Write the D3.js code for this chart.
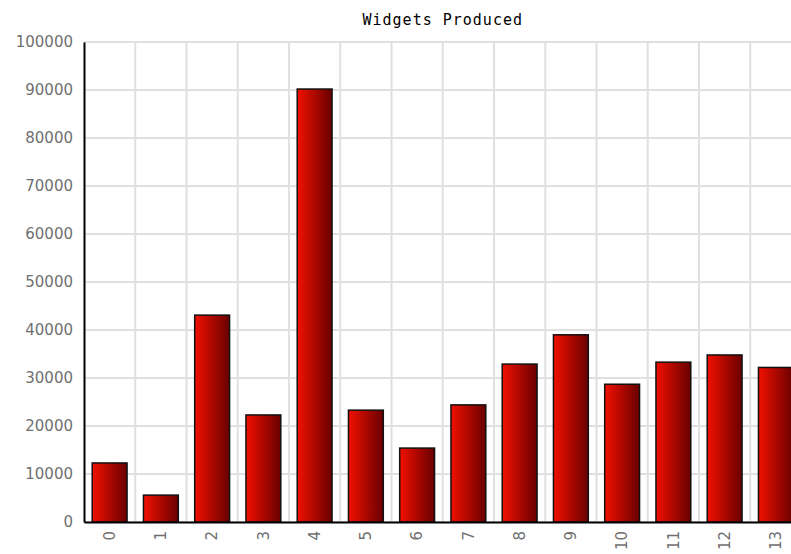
<!DOCTYPE html>
<html>
<head>
<meta charset="utf-8">
<script src="https://d3js.org/d3.v7.min.js"></script>
<style>
  body { margin: 0; background: #fff; }
</style>
</head>
<body>
<div id="chart"></div>
<script>
    // values
    var categories = ["0","1","2","3","4","5","6","7","8","9","10","11","12","13"];
    var widgets = [12300, 5600, 43100, 22300, 90200, 23300, 15400, 24400, 32900, 39000, 28700, 33300, 34800, 32200];
    var yTicks = [0,10000,20000,30000,40000,50000,60000,70000,80000,90000,100000];

    var width = 791, height = 554;
    var margin = {top: 42, left: 84, bottom: 32};
    var plotW = 717.5;
    var plotH = height - margin.top - margin.bottom;

    var svg = d3.select("#chart").append("svg")
        .attr("width", width)
        .attr("height", height);

    var defs = svg.append("defs");
    var grad = defs.append("linearGradient").attr("id", "barGrad")
        .attr("x1", "0%").attr("x2", "100%").attr("y1", "0%").attr("y2", "0%");
    grad.append("stop").attr("offset", "0%").attr("stop-color", "#f21000");
    grad.append("stop").attr("offset", "100%").attr("stop-color", "#680000");

    var x = d3.scaleBand().domain(categories).range([0, plotW]).paddingInner(0.32).paddingOuter(0.16);
    var xGrid = d3.scaleBand().domain(categories).range([0, plotW]);
    var y = d3.scaleLinear().domain([0, 100000]).range([plotH, 0]);

    var g = svg.append("g").attr("transform", "translate(" + margin.left + "," + margin.top + ")");

    // grid
    g.selectAll(".hgrid").data(yTicks).enter().append("line")
        .attr("x1", 0).attr("x2", plotW)
        .attr("y1", function(d) { return y(d); }).attr("y2", function(d) { return y(d); })
        .attr("stroke", "#e0e0e0").attr("stroke-width", 2);
    g.selectAll(".vgrid").data(categories.slice(1)).enter().append("line")
        .attr("x1", function(d) { return xGrid(d); }).attr("x2", function(d) { return xGrid(d); })
        .attr("y1", 0).attr("y2", plotH)
        .attr("stroke", "#e0e0e0").attr("stroke-width", 2);

    // bars
    g.selectAll(".bar").data(widgets).enter().append("rect")
        .attr("x", function(d, i) { return x(categories[i]); })
        .attr("y", function(d) { return y(d); })
        .attr("width", x.bandwidth())
        .attr("height", function(d) { return plotH - y(d); })
        .attr("fill", "url(#barGrad)")
        .attr("stroke", "#111").attr("stroke-width", 1.5);

    // axes
    var yAxis = g.append("g").call(d3.axisLeft(y).tickValues(yTicks).tickSize(0).tickPadding(11).tickFormat(d3.format("d")));
    yAxis.select(".domain").attr("stroke", "#000").attr("stroke-width", 2);
    yAxis.selectAll("text").attr("fill", "#707070").style("font-family", "DejaVu Sans, Verdana, sans-serif").style("font-size", "15px");

    var xAxis = g.append("g").attr("transform", "translate(0," + plotH + ")")
        .call(d3.axisBottom(x).tickSize(0).tickPadding(0));
    xAxis.select(".domain").attr("stroke", "#000").attr("stroke-width", 2);
    xAxis.selectAll("text")
        .attr("fill", "#707070")
        .style("font-family", "DejaVu Sans, Verdana, sans-serif").style("font-size", "15px")
        .attr("text-anchor", "end")
        .attr("dy", "0.35em")
        .attr("transform", "translate(0,9) rotate(-90)");

    // title
    svg.append("text")
        .attr("x", margin.left + plotW / 2).attr("y", 25)
        .attr("text-anchor", "middle")
        .style("font-family", "DejaVu Sans Mono, monospace")
        .style("font-size", "15px")
        .style("letter-spacing", "1px")
        .attr("fill", "#000")
        .text("Widgets Produced");
</script>
</body>
</html>
